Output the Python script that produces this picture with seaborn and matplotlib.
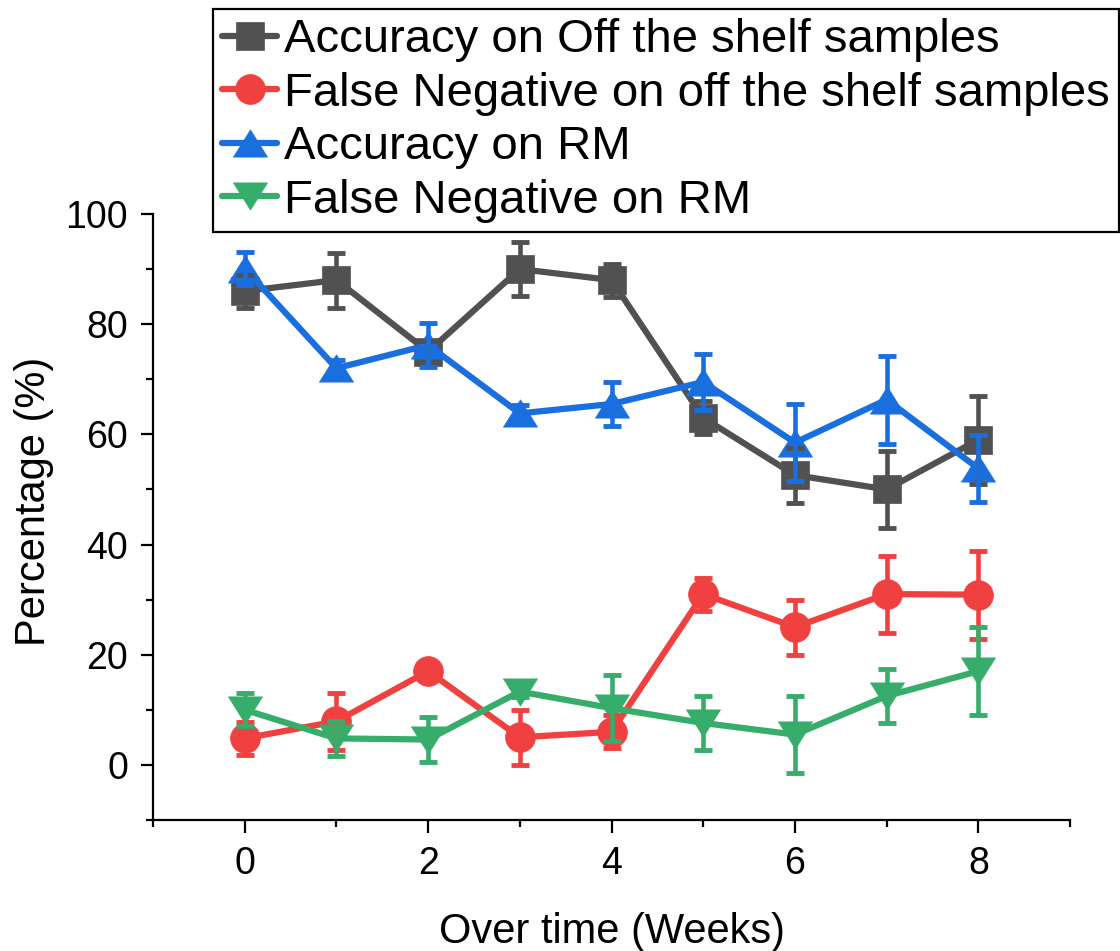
import matplotlib
matplotlib.use("Agg")
import matplotlib.pyplot as plt
import seaborn as sns

# Weekly measurements (mean and error) for the four series
weeks = [0, 1, 2, 3, 4, 5, 6, 7, 8]

acc_off = [86, 88, 75, 90, 88, 63, 52.6, 50, 59]
acc_off_err = [3, 5, 2, 4.9, 3, 3, 5, 7, 8]

fn_off = [4.8, 7.9, 17, 5, 6, 31, 25, 31, 30.9]
fn_off_err = [3, 5.2, 1, 5, 3, 3, 5, 7, 8]

acc_rm = [90.1, 72, 76.2, 63.8, 65.5, 69.5, 58.5, 66.3, 53.8]
acc_rm_err = [3, 1.5, 4, 1.5, 4, 5, 7, 8, 6]

fn_rm = [10, 4.8, 4.6, 13.3, 10.3, 7.6, 5.5, 12.5, 17]
fn_rm_err = [3, 3.2, 4, 1, 6, 4.9, 7, 4.9, 8]

labels = [
    "Accuracy on Off the shelf samples",
    "False Negative on off the shelf samples",
    "Accuracy on RM",
    "False Negative on RM",
]
colors = ["#515151", "#F14040", "#1A6FDF", "#37AD6B"]

sns.set_style("ticks")
plt.rcParams["font.family"] = ["Liberation Sans", "DejaVu Sans"]
plt.rcParams["text.color"] = "black"
plt.rcParams["axes.labelcolor"] = "black"

# wider-than-tall triangles
tri_up = [(-1, -0.8), (1, -0.8), (0, 0.8), (-1, -0.8)]
tri_down = [(-1, 0.8), (1, 0.8), (0, -0.8), (-1, 0.8)]
markers = ["s", "o", tri_up, tri_down]
msizes = [19.5, 21.5, 24.5, 24.5]

series = [
    (acc_off, acc_off_err),
    (fn_off, fn_off_err),
    (acc_rm, acc_rm_err),
    (fn_rm, fn_rm_err),
]

fig = plt.figure(figsize=(11.2, 9.51), dpi=100)
ax = fig.add_axes([0.1366, 0.1378, 0.8188, 0.6372])

for i, ((vals, errs), lab, col, mk, ms) in enumerate(
    zip(series, labels, colors, markers, msizes)
):
    sns.lineplot(
        x=weeks, y=vals, ax=ax, color=col, linewidth=4.5,
        marker=mk, markersize=ms, markeredgecolor=col, markerfacecolor=col,
        markeredgewidth=0.5, label=lab, zorder=3 + i, legend=False,
    )
for i, ((vals, errs), col) in enumerate(zip(series, colors)):
    ax.errorbar(
        weeks, vals, yerr=errs, fmt="none", ecolor=col,
        elinewidth=3.3, capsize=6.5, capthick=3.5, zorder=10 + i,
    )

ax.set_xlim(-1, 9)
ax.set_ylim(-10, 100)
ax.set_xticks([0, 2, 4, 6, 8])
ax.set_xticks([-1, 1, 3, 5, 7, 9], minor=True)
ax.set_yticks([0, 20, 40, 60, 80, 100])
ax.set_yticks([-10, 10, 30, 50, 70, 90], minor=True)

for side in ("top", "right"):
    ax.spines[side].set_visible(False)
for side in ("left", "bottom"):
    ax.spines[side].set_linewidth(1.6)
    ax.spines[side].set_color("black")

ax.tick_params(axis="both", which="major", direction="out", length=9,
               width=1.6, labelsize=27, colors="black")
ax.tick_params(axis="both", which="minor", direction="out", length=5,
               width=1.6, colors="black")
ax.tick_params(axis="x", which="major", pad=10)
ax.tick_params(axis="y", which="major", pad=9)

ax.set_xlabel("Over time (Weeks)", fontsize=30, labelpad=21, color="black")
ax.set_ylabel("Percentage (%)", fontsize=30, labelpad=8, y=0.526,
              color="black")

leg = ax.legend(
    loc="upper left", bbox_to_anchor=(213 / 1120, 1 - 9 / 951),
    bbox_transform=fig.transFigure, borderaxespad=0, fontsize=34,
    frameon=True, fancybox=False, edgecolor="black", framealpha=1,
    handlelength=1.15, handletextpad=0.15, borderpad=0.2, labelspacing=0.2,
    numpoints=1,
)
leg.get_frame().set_linewidth(1.6)
for t in leg.get_texts():
    t.set_color("black")
leg.set_zorder(20)

fig.savefig("out.png", dpi=100)
